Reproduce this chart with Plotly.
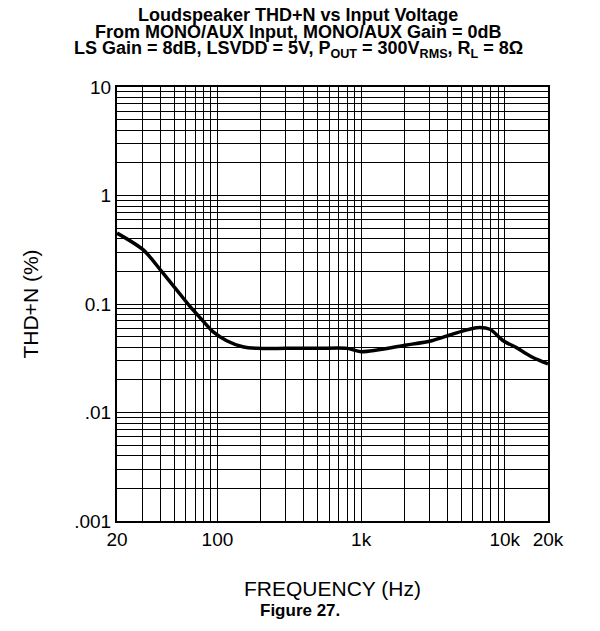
import plotly.graph_objects as go

# ---- data ----
freq_hz = [20, 30.5, 41, 52, 64, 76, 93, 116, 150, 188, 300, 500, 800, 1000,
           2075, 3100, 4150, 5140, 6370, 7880, 9750, 12060, 15600, 20000]
thd_pct = [0.45, 0.315, 0.199, 0.135, 0.096, 0.0743, 0.0556, 0.0459, 0.0404, 0.039,
           0.039, 0.039, 0.039, 0.0363, 0.0419, 0.0459, 0.0518, 0.0565, 0.0605,
           0.0585, 0.0459, 0.0396, 0.0323, 0.028]

x_tickvals = [20, 30, 40, 50, 60, 70, 80, 90,
              100, 200, 300, 400, 500, 600, 700, 800, 900,
              1000, 2000, 3000, 4000, 5000, 6000, 7000, 8000, 9000,
              10000, 20000]
x_labels = {20: "20", 100: "100", 1000: "1k", 10000: "10k", 20000: "20k"}

y_tickvals = []
for d in [0.001, 0.01, 0.1, 1]:
    for m in range(1, 10):
        y_tickvals.append(round(d * m, 6))
y_tickvals.append(10)
y_labels = {0.001: ".001", 0.01: ".01", 0.1: "0.1", 1: "1", 10: "10"}

title_lines = [
    "Loudspeaker THD+N vs Input Voltage",
    "From MONO/AUX Input, MONO/AUX Gain = 0dB",
    "LS Gain = 8dB, LSVDD = 5V, P<sub>OUT</sub> = 300V<sub>RMS</sub>, R<sub>L</sub> = 8Ω",
]

FONT = "Liberation Sans, Arial, sans-serif"

fig = go.Figure()
fig.add_trace(go.Scatter(
    x=freq_hz, y=thd_pct, mode="lines",
    line=dict(color="black", width=3.5, shape="spline", smoothing=0.8),
    showlegend=False, hoverinfo="skip",
))

axis_common = dict(
    type="log", showgrid=True, gridcolor="black", gridwidth=1.3,
    showline=True, linecolor="black", linewidth=2, mirror=True,
    ticks="", zeroline=False,
    tickfont=dict(family=FONT, size=19, color="black"),
)

fig.update_xaxes(
    **axis_common,
    range=[1.30103, 4.30103],
    tickmode="array", tickvals=x_tickvals,
    ticktext=[x_labels.get(v, "") for v in x_tickvals],
    title=dict(text="FREQUENCY (Hz)", font=dict(family=FONT, size=21, color="black"), standoff=33),
)
fig.update_yaxes(
    **axis_common,
    range=[-3, 1],
    tickmode="array", tickvals=y_tickvals,
    ticktext=[y_labels.get(v, "") for v in y_tickvals],
    title=dict(text="THD+N (%)", font=dict(family=FONT, size=21, color="black"), standoff=30),
)

# plot area: x 117..548, y 87..521 (pixels)
H = 434.0
def py(ypx):
    return (521 - ypx) / H

annots = []
for txt, ypx in zip(title_lines, [15, 32, 50]):
    annots.append(dict(text="<b>" + txt + "</b>", x=0.42, xref="paper",
                       y=py(ypx), yref="paper", xanchor="center", yanchor="middle",
                       showarrow=False, font=dict(family=FONT, size=18, color="black")))
annots.append(dict(text="<b>Figure 27.</b>", x=0.425, xref="paper", y=py(610), yref="paper",
                   xanchor="center", yanchor="middle", showarrow=False,
                   font=dict(family=FONT, size=17, color="black")))

fig.update_layout(
    width=600, height=631,
    margin=dict(l=117, r=52, t=87, b=110, pad=0),
    paper_bgcolor="white", plot_bgcolor="white",
    annotations=annots,
)

fig.write_html("out.html")
